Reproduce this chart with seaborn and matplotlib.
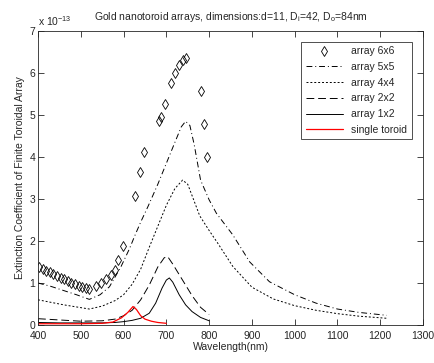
import matplotlib
matplotlib.use("Agg")
import matplotlib.pyplot as plt
import seaborn as sns
import numpy as np

# values in units of 1e-13
x_6x6 = [403, 411, 419, 428, 436, 444, 453, 461, 470, 478, 487, 495, 503, 511, 520,
         536, 548, 559, 571, 579, 587, 598, 626, 638, 648, 683, 688, 697, 712, 720,
         730, 738, 746, 780, 788, 796]
y_6x6 = [1.37, 1.33, 1.29, 1.25, 1.21, 1.17, 1.13, 1.09, 1.05, 1.01, 0.98, 0.94, 0.91, 0.88, 0.85,
         0.93, 1.01, 1.09, 1.19, 1.32, 1.55, 1.88, 3.07, 3.65, 4.12, 4.85, 4.95, 5.25, 5.75, 6.0,
         6.2, 6.3, 6.35, 5.58, 4.78, 4.0]

x_5x5 = [400, 430, 460, 490, 520, 545, 567, 594, 614, 626, 640, 657, 680, 700, 720, 735, 745,
         755, 765, 780, 800, 817, 855, 895, 941, 1000, 1050, 1100, 1150, 1215]
y_5x5 = [1.0, 0.92, 0.82, 0.72, 0.61, 0.72, 0.91, 1.39, 1.82, 2.12, 2.45, 2.82, 3.35, 3.85, 4.35, 4.72, 4.85,
         4.75, 4.3, 3.45, 2.98, 2.66, 2.15, 1.5, 1.03, 0.72, 0.52, 0.38, 0.3, 0.23]

x_4x4 = [400, 430, 460, 490, 520, 550, 580, 600, 620, 640, 660, 680, 700, 720, 738,
         750, 765, 778, 800, 820, 855, 900, 950, 1000, 1050, 1100, 1150, 1215]
y_4x4 = [0.6, 0.54, 0.48, 0.43, 0.38, 0.45, 0.58, 0.72, 0.97, 1.33, 1.85, 2.35, 2.85, 3.25, 3.45,
         3.35, 2.95, 2.6, 2.25, 1.95, 1.4, 0.9, 0.62, 0.46, 0.35, 0.27, 0.21, 0.16]

x_2x2 = [400, 450, 500, 550, 580, 600, 620, 640, 660, 680, 695, 703, 715, 730, 745, 760, 780, 800]
y_2x2 = [0.15, 0.12, 0.09, 0.1, 0.14, 0.22, 0.35, 0.6, 0.95, 1.38, 1.6, 1.63, 1.45, 1.2, 0.95, 0.7, 0.42, 0.25]

x_1x2 = [400, 450, 500, 550, 580, 600, 620, 640, 660, 675, 690, 700, 707, 715, 730, 745, 760, 780, 800]
y_1x2 = [0.06, 0.05, 0.05, 0.05, 0.06, 0.08, 0.11, 0.16, 0.28, 0.52, 0.88, 1.07, 1.12, 1.02, 0.72, 0.48, 0.32, 0.18, 0.1]

x_single = [400, 450, 500, 550, 575, 595, 610, 622, 630, 640, 650, 665, 680, 700]
y_single = [0.03, 0.03, 0.03, 0.04, 0.07, 0.17, 0.3, 0.44, 0.37, 0.22, 0.14, 0.09, 0.06, 0.04]

labels = ['array 6x6', 'array 5x5', 'array 4x4', 'array 2x2', 'array 1x2', 'single toroid']

sns.set_style("ticks")
plt.rcParams['font.family'] = ['Liberation Sans', 'DejaVu Sans']
plt.rcParams['font.size'] = 7.5
plt.rcParams['mathtext.fontset'] = 'custom'
plt.rcParams['mathtext.rm'] = 'Liberation Sans'
plt.rcParams['mathtext.it'] = 'Liberation Sans'

fig = plt.figure(figsize=(4.34, 3.63), dpi=100)
ax = fig.add_axes([0.0876, 0.1047, 0.8871, 0.8099])

sns.lineplot(x=x_6x6, y=y_6x6, ax=ax, color='k', linestyle='', marker='d', markersize=5,
             markerfacecolor='none', markeredgecolor='k', markeredgewidth=0.6, label=labels[0])
sns.lineplot(x=x_5x5, y=y_5x5, ax=ax, color='k', linewidth=0.7, linestyle=(0, (6, 3, 1, 3)), label=labels[1])
sns.lineplot(x=x_4x4, y=y_4x4, ax=ax, color='k', linewidth=0.7, linestyle=(0, (2, 2)), label=labels[2])
sns.lineplot(x=x_2x2, y=y_2x2, ax=ax, color='k', linewidth=0.7, linestyle=(0, (8, 4)), label=labels[3])
sns.lineplot(x=x_1x2, y=y_1x2, ax=ax, color='k', linewidth=0.7, linestyle='-', label=labels[4])
sns.lineplot(x=x_single, y=y_single, ax=ax, color='#ff0000', linewidth=0.9, linestyle='-', label=labels[5])

ax.set_xlim(400, 1300)
ax.set_ylim(0, 7)
ax.set_xticks(np.arange(400, 1301, 100))
ax.set_yticks(np.arange(0, 8, 1))
ax.tick_params(direction='in', length=4, width=0.6, top=True, right=True, labelsize=7.5, pad=2)
ax.tick_params(axis='x', pad=4)
for s in ax.spines.values():
    s.set_linewidth(0.6)
    s.set_visible(True)

ax.set_xlabel('Wavelength(nm)', fontsize=7.5, labelpad=1)
ax.set_ylabel('Extinction Coefficient of Finite Toroidal Array', fontsize=7.5, labelpad=3)
ax.set_title('Gold nanotoroid arrays, dimensions:d=11, D$_{\\mathrm{i}}$=42, D$_{\\mathrm{o}}$=84nm',
             fontsize=7.5, pad=8)
ax.text(0.0, 1.01, 'x 10$^{-13}$', transform=ax.transAxes, fontsize=7.5, ha='left', va='bottom')

handles = [l for l in ax.get_lines() if l.get_label() in labels]
leg = ax.legend(handles, [h.get_label() for h in handles], loc='upper right',
                bbox_to_anchor=(0.984, 0.98), frameon=True, fancybox=False, edgecolor='k',
                handlelength=3.6, labelspacing=0.55, borderpad=0.4, fontsize=7.5)
leg.get_frame().set_linewidth(0.6)

fig.savefig('out.png', dpi=100)
